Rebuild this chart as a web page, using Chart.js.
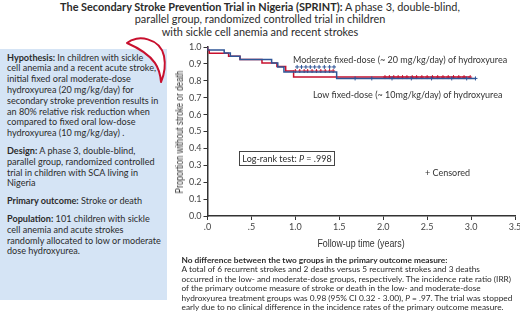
<!DOCTYPE html>
<html>
<head>
<meta charset="utf-8">
<script src="https://cdn.jsdelivr.net/npm/chart.js@4.4.1/dist/chart.umd.min.js"></script>
<style>
  html, body { margin: 0; padding: 0; }
  body { width: 520px; height: 314px; position: relative; overflow: hidden; background: #fff;
         font-family: Lato, "Open Sans", sans-serif; color: #2b2b2b; }
  .abs { position: absolute; white-space: nowrap; }
  #title { left: 0; top: 0.5px; width: 520px; text-align: center; font-size: 10.9px; line-height: 12.5px; }
  #leftBox { left: 0; top: 49px; width: 167px; height: 251px; background: #d5e4f5; }
  #leftText { left: 7px; top: 52.6px; font-size: 9.1px; line-height: 10.8px; }
  #leftText p { margin: 0 0 7px 0; }
  #chartWrap { left: 160px; top: 30px; width: 380px; height: 226px; }
  .note { font-size: 9px; line-height: 11px; color: #333; }
  .axTitle { font-family: "Liberation Sans", Arial, sans-serif; font-size: 10.5px; line-height: 12px; color: #333; }
  #yTitle { left: 178.5px; top: 131.5px; transform: translate(-50%, -50%) rotate(-90deg) scaleX(0.78); }
  #xTitle { left: 361px; top: 243px; transform: translate(-50%, -50%) scaleX(0.84); }
  #logrank { left: 239px; top: 151px; width: 94px; height: 13px; border: 1px solid #444;
             font-size: 9px; line-height: 13px; text-align: center; }
  #bottomText { left: 181.5px; top: 255.5px; font-size: 8.3px; line-height: 9.5px; }
</style>
</head>
<body>
<div id="title" class="abs"><b>The Secondary Stroke Prevention Trial in Nigeria (SPRINT):</b> A phase 3, double-blind,<br>parallel group, randomized controlled trial in children<br>with sickle cell anemia and recent strokes</div>

<div id="leftBox" class="abs"></div>
<div id="leftText" class="abs">
  <p><b>Hypothesis:</b> In children with sickle<br>cell anemia and a recent acute stroke,<br>initial fixed oral moderate-dose<br>hydroxyurea (20 mg/kg/day) for<br>secondary stroke prevention results in<br>an 80% relative risk reduction when<br>compared to fixed oral low-dose<br>hydroxyurea (10 mg/kg/day) .</p>
  <p><b>Design:</b> A phase 3, double-blind,<br>parallel group, randomized controlled<br>trial in children with SCA living in<br>Nigeria</p>
  <p><b>Primary outcome:</b> Stroke or death</p>
  <p><b>Population:</b> 101 children with sickle<br>cell anemia and acute strokes<br>randomly allocated to low or moderate<br>dose hydroxyurea.</p>
</div>

<svg class="abs" style="left:0;top:0" width="520" height="100">
  <path d="M127,43 C137,34 160,38 164,56 C166,66 164,75 161,82 C160,70 157,56 127,43 Z"
        fill="#fff" stroke="#c8102e" stroke-width="2" stroke-linejoin="round"/>
</svg>

<div id="chartWrap" class="abs"><canvas id="km" width="380" height="226"></canvas></div>

<div id="yTitle" class="abs axTitle">Proportion without stroke or death</div>
<div id="xTitle" class="abs axTitle">Follow-up time (years)</div>

<div class="abs note" style="left:293px;top:53.5px">Moderate fixed-dose (~ 20 mg/kg/day) of hydroxyurea</div>
<div class="abs note" style="left:313px;top:89px">Low fixed-dose (~ 10mg/kg/day) of hydroxyurea</div>
<div id="logrank" class="abs">Log-rank test: <i>P</i> = .998</div>
<div class="abs note" style="left:425px;top:167px">+ Censored</div>

<div id="bottomText" class="abs"><b>No difference between the two groups in the primary outcome measure:</b><br>A total of 6 recurrent strokes and 2 deaths versus 5 recurrent strokes and 3 deaths<br>occurred in the low- and moderate-dose groups, respectively. The incidence rate ratio (IRR)<br>of the primary outcome measure of stroke or death in the low- and moderate-dose<br>hydroxyurea treatment groups was 0.98 (95% CI 0.32 - 3.00), <i>P</i> = .97. The trial was stopped<br>early due to no clinical difference in the incidence rates of the primary outcome measure.</div>

<script>
// Courbes de Kaplan-Meier (temps en années, proportion sans AVC ni décès)
const lowTimes = [0, 0.19, 0.26, 0.37, 0.73, 0.80, 0.87, 1.47, 1.57, 3.05];
const lowSurv  = [1.0, 0.982, 0.964, 0.945, 0.926, 0.905, 0.882, 0.852, 0.814, 0.814];
const modTimes = [0, 0.02, 0.24, 0.37, 0.62, 0.79, 0.89, 0.98, 1.96, 2.99];
const modSurv  = [1.0, 0.981, 0.963, 0.945, 0.926, 0.906, 0.884, 0.858, 0.822, 0.822];

// Temps des patients censurés
const lowCensor = [1.02, 1.07, 1.12, 1.17, 1.22, 1.27, 1.33, 1.39, 1.44, 1.68, 1.87, 2.10, 2.32, 2.55, 2.78, 2.95, 3.05];
const modCensor = [1.00, 1.05, 1.10, 1.14, 1.19, 1.24, 1.29, 1.34, 1.39, 1.43, 2.02, 2.07, 2.12, 2.17, 2.22, 2.27,
                   2.33, 2.38, 2.44, 2.50, 2.56, 2.62, 2.68, 2.74, 2.80, 2.86, 2.92, 2.99];

const xTickLabels = ['.0', '.5', '1.0', '1.5', '2.0', '2.5', '3.0', '3.5'];
const yTickLabels = ['0.0', '0.1', '0.2', '0.3', '0.4', '0.5', '0.6', '0.7', '0.8', '0.9', '1.0'];

const blue = '#2f5597';
const red = '#c8102e';

// valeur de la courbe en escalier à un temps donné
function survAt(times, surv, t) {
    let s = surv[0];
    for (let i = 0; i < times.length; i++) {
        if (times[i] <= t) s = surv[i];
    }
    return s;
}

function toPoints(times, surv) {
    return times.map((t, i) => ({ x: t, y: surv[i] }));
}

function censorPoints(cens, times, surv) {
    return cens.map(t => ({ x: t, y: survAt(times, surv, t) }));
}

const tickFont = { family: 'Lato, sans-serif', size: 9 };

new Chart(document.getElementById('km'), {
    type: 'line',
    data: {
        datasets: [{
            label: 'Low fixed-dose',
            data: toPoints(lowTimes, lowSurv),
            borderColor: blue,
            borderWidth: 1.5,
            stepped: 'after',
            pointRadius: 0,
            fill: false
        }, {
            label: 'Low censored',
            type: 'scatter',
            data: censorPoints(lowCensor, lowTimes, lowSurv),
            borderColor: blue,
            backgroundColor: blue,
            pointStyle: 'cross',
            pointRadius: 2,
            borderWidth: 1,
            showLine: false
        }, {
            label: 'Moderate fixed-dose',
            data: toPoints(modTimes, modSurv),
            borderColor: red,
            borderWidth: 1.5,
            stepped: 'after',
            pointRadius: 0,
            fill: false
        }, {
            label: 'Moderate censored',
            type: 'scatter',
            data: censorPoints(modCensor, modTimes, modSurv),
            borderColor: red,
            backgroundColor: red,
            pointStyle: 'cross',
            pointRadius: 2,
            borderWidth: 1,
            showLine: false
        }]
    },
    options: {
        responsive: false,
        animation: false,
        layout: { padding: { left: 12.8, top: 17, right: 25, bottom: 7 } },
        plugins: { legend: { display: false }, tooltip: { enabled: false } },
        scales: {
            x: {
                type: 'linear',
                min: 0, max: 3.5,
                afterFit: s => { s.height = 33; },
                ticks: {
                    stepSize: 0.5,
                    color: '#444',
                    font: tickFont,
                    padding: 2,
                    maxRotation: 0,
                    callback: (v, i) => xTickLabels[i]
                },
                grid: { drawOnChartArea: false, drawTicks: true, tickLength: 4, color: '#333', lineWidth: 1 },
                border: { display: true, color: '#333', width: 1.5 }
            },
            y: {
                min: 0, max: 1,
                afterFit: s => { s.width = 34.7; },
                ticks: {
                    stepSize: 0.1,
                    color: '#444',
                    font: tickFont,
                    padding: 2,
                    callback: (v, i) => yTickLabels[i]
                },
                grid: { drawOnChartArea: false, drawTicks: true, tickLength: 4, color: '#333', lineWidth: 1 },
                border: { display: true, color: '#333', width: 1.5 }
            }
        }
    }
});
</script>
</body>
</html>
